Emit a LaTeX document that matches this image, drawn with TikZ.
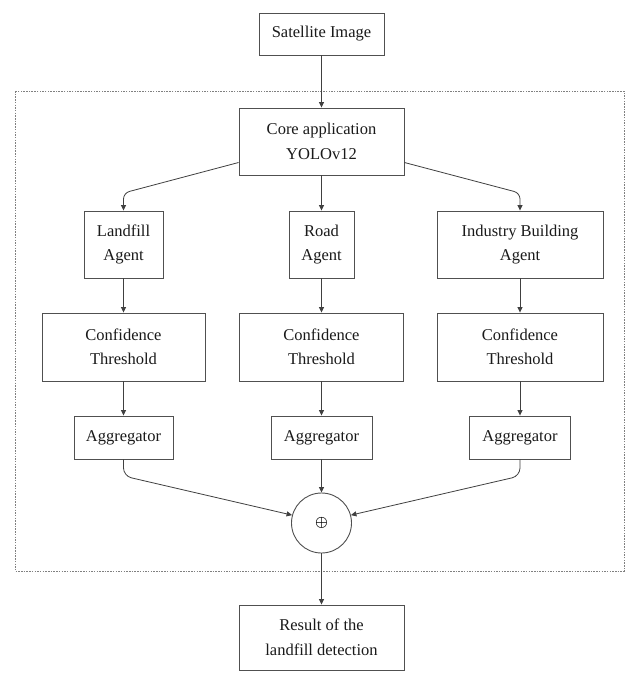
\documentclass[tikz,border=0pt]{standalone}
\usepackage{fontspec}
\setmainfont{Liberation Serif}
\usetikzlibrary{arrows.meta}
\definecolor{boxc}{HTML}{505050}
\definecolor{linec}{HTML}{404040}
\definecolor{txtc}{HTML}{1A1A1A}
\definecolor{framec}{HTML}{808080}
\begin{document}
\begin{tikzpicture}[x=1pt,y=-1pt,
  box/.style={draw=boxc, line width=0.9pt, inner sep=0pt, align=center, text=txtc,
    font=\fontsize{16.5}{24.5}\selectfont},
  arr/.style={draw=linec, line width=0.8pt, -{Triangle[length=5.5pt,width=5pt]}},
  frame/.style={draw=framec, line width=0.9pt, dash pattern=on 1.5pt off 1.2pt}]
\useasboundingbox (0,0) rectangle (625,673);
\fill[white] (0,0) rectangle (625,673);

% dotted frame
\draw[frame] (15,91) rectangle (624,571);

% nodes
\node[box, minimum width=125pt, minimum height=42pt] (sat) at (321.5,34) {Satellite Image};
\node[box, minimum width=165pt, minimum height=67pt] (core) at (321.5,141.5) {Core application\\YOLOv12};

\node[box, minimum width=79pt, minimum height=67pt] (land) at (123.5,244.5) {Landfill\\Agent};
\node[box, minimum width=65pt, minimum height=67pt] (road) at (321.5,244.5) {Road\\Agent};
\node[box, minimum width=166pt, minimum height=67pt] (ind) at (520,244.5) {Industry Building\\Agent};

\node[box, minimum width=163pt, minimum height=68pt] (conf1) at (123.5,347) {Confidence\\Threshold};
\node[box, minimum width=164pt, minimum height=68pt] (conf2) at (321.5,347) {Confidence\\Threshold};
\node[box, minimum width=166pt, minimum height=68pt] (conf3) at (520,347) {Confidence\\Threshold};

\node[box, minimum width=99pt, minimum height=43pt] (agg1) at (123.5,437.5) {Aggregator};
\node[box, minimum width=101pt, minimum height=43pt] (agg2) at (321.5,437.5) {Aggregator};
\node[box, minimum width=101pt, minimum height=43pt] (agg3) at (520,437.5) {Aggregator};

\node[circle, draw=boxc, line width=0.9pt, minimum size=60pt, inner sep=0pt, text=black,
  font=\fontsize{15}{15}\selectfont\boldmath] (circ) at (321.5,523) {$\oplus$};

\node[box, minimum width=165pt, minimum height=65pt] (res) at (321.5,637.5) {Result of the\\landfill detection};

% bend coordinates
\coordinate (k1) at (123.5,193);
\coordinate (k3) at (520,193);
\coordinate (k4) at (123.5,476);
\coordinate (k6) at (520,476);

% connectors
\draw[arr] (sat.south) -- (core.north);
\draw[arr, rounded corners=6pt] ([yshift=-21pt]core.west) -- (k1) -- (land.north);
\draw[arr] (core.south) -- (road.north);
\draw[arr, rounded corners=6pt] ([yshift=-21pt]core.east) -- (k3) -- (ind.north);

\draw[arr] (land.south) -- (conf1.north);
\draw[arr] (road.south) -- (conf2.north);
\draw[arr] (ind.south) -- (conf3.north);

\draw[arr] (conf1.south) -- (agg1.north);
\draw[arr] (conf2.south) -- (agg2.north);
\draw[arr] (conf3.south) -- (agg3.north);

\draw[arr, rounded corners=8pt] (agg1.south) -- (k4) -- (circ.165);
\draw[arr] (agg2.south) -- (circ.north);
\draw[arr, rounded corners=8pt] (agg3.south) -- (k6) -- (circ.15);

\draw[arr] (circ.south) -- (res.north);
\end{tikzpicture}
\end{document}
